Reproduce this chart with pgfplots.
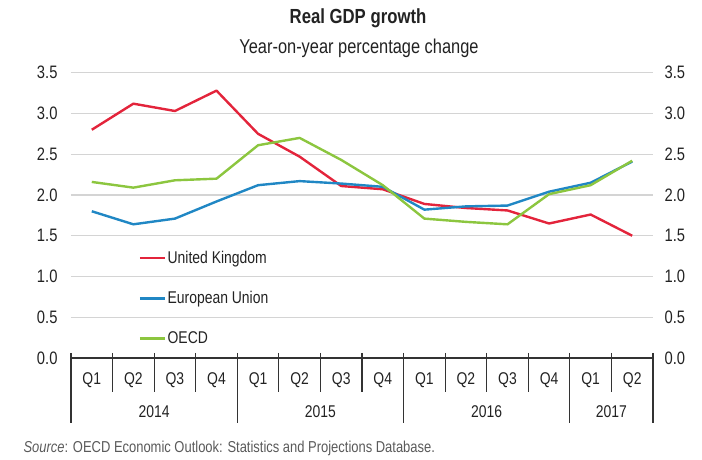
\documentclass[border=0pt]{standalone}
\usepackage{pgfplots}
\pgfplotsset{compat=1.18}
\usepackage{fontspec}
\setmainfont{Liberation Sans}[FakeStretch=0.82]
\definecolor{ukred}{HTML}{E3243B}
\definecolor{eublue}{HTML}{2087C4}
\definecolor{oecdgreen}{HTML}{8CC63F}
\definecolor{gridc}{HTML}{D4D4D4}
\definecolor{axisc}{HTML}{333333}
\definecolor{textc}{HTML}{222222}
\definecolor{srcc}{HTML}{5A5A5A}
\begin{document}
\begin{tikzpicture}
\path[use as bounding box] (0pt,0pt) rectangle (702pt,460pt);
\node[text=textc, font=\fontsize{20.4}{22}\selectfont\bfseries] at (358pt,442pt) {Real GDP growth};
\node[text=textc, font=\fontsize{20}{22}\selectfont] at (359pt,412pt) {Year-on-year percentage change};
\node[text=srcc, anchor=west, font=\fontsize{15.8}{17}\selectfont] at (20pt,12pt) {\textit{Source}: OECD Economic Outlook: Statistics and Projections Database.};
\begin{axis}[
  at={(71pt,102pt)}, anchor=south west,
  width=582pt, height=285.3pt, scale only axis,
  xmin=-0.5, xmax=13.5, ymin=0, ymax=3.5,
  clip=false,
  axis x line*=bottom, axis y line*=left,
  x axis line style={draw=axisc, line width=1.2pt, -},
  y axis line style={draw=none},
  ytick={0,0.5,...,3.5},
  ymajorgrids, grid style={draw=gridc, line width=1.4pt},
  major tick length=0pt,
  yticklabel style={text=textc, font=\fontsize{18}{20}\selectfont, xshift=-10pt},
  /pgf/number format/assume math mode=true,
  /pgf/number format/.cd, fixed, fixed zerofill, precision=1, /pgfplots/.cd,
  xtick={0,...,13},
  xticklabels={Q1,Q2,Q3,Q4,Q1,Q2,Q3,Q4,Q1,Q2,Q3,Q4,Q1,Q2},
  xticklabel style={text=textc, font=\fontsize{17}{19}\selectfont, anchor=center, yshift=-22pt},
  legend style={draw=none, fill=none, at={(rel axis cs:0.116,0.38)}, anchor=north west,
    font=\fontsize{17}{19}\selectfont, text=textc, row sep=23.5pt, inner sep=0pt,
    nodes={inner sep=1.5pt}},
  legend cell align=left,
  legend image code/.code={\draw (0pt,0pt) -- (25pt,0pt);},
  every axis plot/.append style={line width=2.4pt, line join=round}
]
\addplot[ukred] coordinates {(0,2.80) (1,3.12) (2,3.03) (3,3.28) (4,2.75) (5,2.47) (6,2.11) (7,2.07) (8,1.89) (9,1.84) (10,1.81) (11,1.65) (12,1.76) (13,1.50)};
\addlegendentry{United Kingdom}
\addplot[eublue] coordinates {(0,1.80) (1,1.64) (2,1.71) (3,1.92) (4,2.12) (5,2.17) (6,2.14) (7,2.10) (8,1.82) (9,1.86) (10,1.87) (11,2.04) (12,2.15) (13,2.41)};
\addlegendentry{European Union}
\addplot[oecdgreen] coordinates {(0,2.16) (1,2.09) (2,2.18) (3,2.20) (4,2.61) (5,2.70) (6,2.43) (7,2.12) (8,1.71) (9,1.67) (10,1.64) (11,2.01) (12,2.12) (13,2.42)};
\addlegendentry{OECD}
\pgfplotsinvokeforeach{0.5,1.5,2.5,4.5,5.5,6.5,8.5,9.5,10.5,12.5}{
  \draw[axisc, line width=1.2pt] ([yshift=5pt]axis cs:#1,0) -- ([yshift=-34pt]axis cs:#1,0);
}
\pgfplotsinvokeforeach{-0.5,3.5,7.5,11.5,13.5}{
  \draw[axisc, line width=1.2pt] ([yshift=5pt]axis cs:#1,0) -- ([yshift=-65pt]axis cs:#1,0);
}
\node[text=textc, font=\fontsize{17}{19}\selectfont] at ([yshift=-54pt]axis cs:1.5,0) {2014};
\node[text=textc, font=\fontsize{17}{19}\selectfont] at ([yshift=-54pt]axis cs:5.5,0) {2015};
\node[text=textc, font=\fontsize{17}{19}\selectfont] at ([yshift=-54pt]axis cs:9.5,0) {2016};
\node[text=textc, font=\fontsize{17}{19}\selectfont] at ([yshift=-54pt]axis cs:12.5,0) {2017};
\end{axis}
\begin{axis}[
  at={(71pt,102pt)}, anchor=south west,
  width=582pt, height=285.3pt, scale only axis,
  xmin=-0.5, xmax=13.5, ymin=0, ymax=3.5,
  axis x line=none, axis y line*=right,
  y axis line style={draw=none},
  major tick length=0pt,
  ytick={0,0.5,...,3.5},
  yticklabel style={text=textc, font=\fontsize{18}{20}\selectfont, xshift=8pt},
  /pgf/number format/assume math mode=true,
  /pgf/number format/.cd, fixed, fixed zerofill, precision=1, /pgfplots/.cd,
]
\end{axis}
\end{tikzpicture}
\end{document}
